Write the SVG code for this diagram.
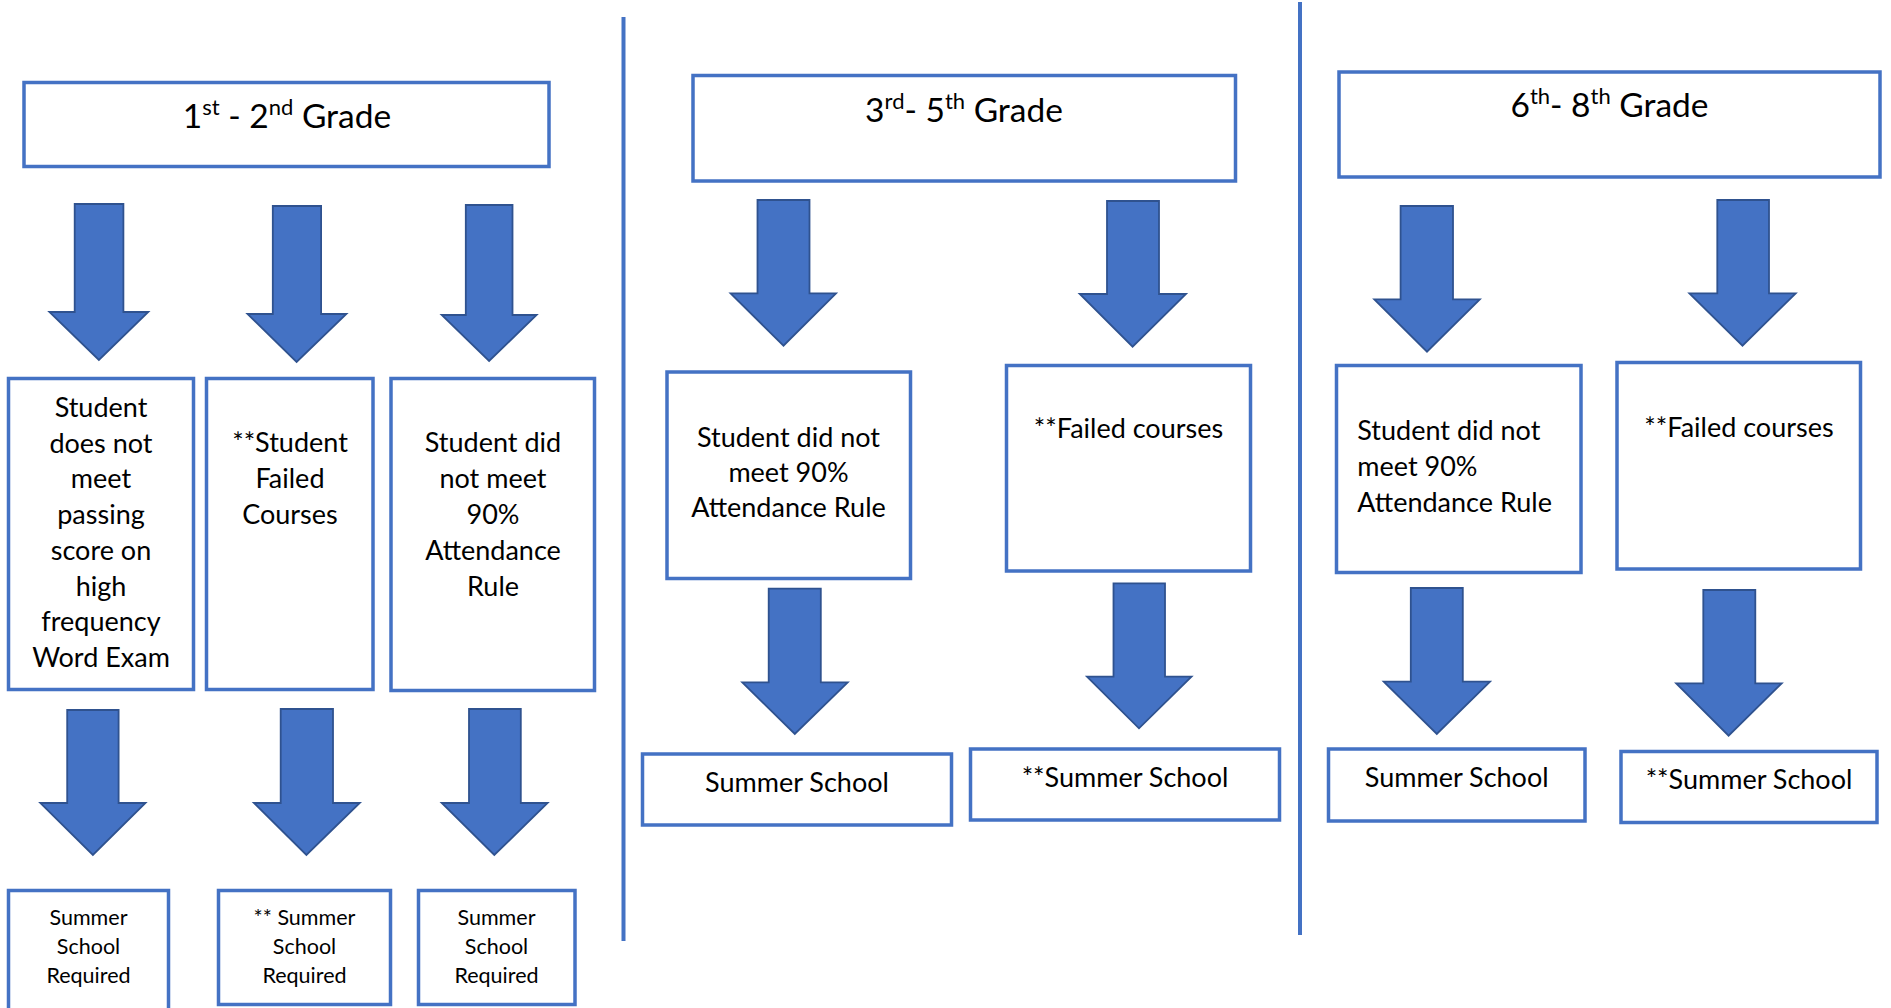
<svg xmlns="http://www.w3.org/2000/svg" width="1891" height="1008" viewBox="0 0 1891 1008">
<style>
.box{fill:#fff;stroke:#4472C4;stroke-width:3.5}
.arr{fill:#4472C4;stroke:#2F528F;stroke-width:1.8;stroke-linejoin:miter}
.sep{stroke:#4472C4;stroke-width:4}
text{font-family:Lato,"Liberation Sans",sans-serif;fill:#000}
.hd{font-size:33.5px;text-anchor:middle}
.t{font-size:27px;text-anchor:middle}
.tl{font-size:27px;text-anchor:start}
.s{font-size:21.5px;text-anchor:middle}
</style>
<rect width="1891" height="1008" fill="#fff"/>
<g id="separators">
<line class="sep" x1="623.5" y1="17" x2="623.5" y2="941"/>
<line class="sep" x1="1300" y1="2" x2="1300" y2="935"/>
</g>
<g id="connectors">
<polygon class="arr" points="74.7,204 123.4,204 123.4,312 148.3,312 98.9,360 49.4,312 74.7,312"/>
<polygon class="arr" points="272.8,206 321.1,206 321.1,314 346.4,314 296.6,362 247.5,314 272.8,314"/>
<polygon class="arr" points="465.8,205 512.5,205 512.5,315 536.6,315 489.1,361 441.7,315 465.8,315"/>
<polygon class="arr" points="67.2,710 118.6,710 118.6,803 145.5,803 92.9,855 40.3,803 67.2,803"/>
<polygon class="arr" points="280.7,709 333,709 333,803 359.8,803 306.4,855 253.9,803 280.7,803"/>
<polygon class="arr" points="469,709 520.8,709 520.8,803 547.6,803 494.3,855 441.7,803 469,803"/>
<polygon class="arr" points="757.5,200 809.5,200 809.5,293.3 836,293.3 783.5,345.7 730.6,293.3 757.5,293.3"/>
<polygon class="arr" points="1107,201 1159,201 1159,294 1186,294 1132.6,346.7 1079.7,294 1107,294"/>
<polygon class="arr" points="768.7,588.7 820.8,588.7 820.8,682.3 847.7,682.3 794.8,734 742.3,682.3 768.7,682.3"/>
<polygon class="arr" points="1113.5,583.3 1165,583.3 1165,676.7 1191.5,676.7 1139,728.3 1087,676.7 1113.5,676.7"/>
<polygon class="arr" points="1400.6,206 1453,206 1453,299.3 1479.8,299.3 1427,351.7 1374.3,299.3 1400.6,299.3"/>
<polygon class="arr" points="1717.3,200 1769,200 1769,293.3 1795.7,293.3 1742.5,345.7 1689.4,293.3 1717.3,293.3"/>
<polygon class="arr" points="1410.8,588 1462.8,588 1462.8,681.7 1490,681.7 1436.8,734 1383.7,681.7 1410.8,681.7"/>
<polygon class="arr" points="1703.3,590 1755.3,590 1755.3,683.3 1781.7,683.3 1728.6,735.7 1676.2,683.3 1703.3,683.3"/>
</g>
<g id="grade-1-2">
<rect class="box" x="24" y="82.5" width="525" height="84"/>
<text class="hd" x="287" y="128">1<tspan dy="-13" font-size="22">st</tspan><tspan dy="13"> - 2</tspan><tspan dy="-13" font-size="22">nd</tspan><tspan dy="13"> Grade</tspan></text>
</g>
<g id="g12-exam">
<rect class="box" x="8.5" y="378.5" width="185" height="311"/>
<text class="t" x="101"><tspan x="101" y="417">Student</tspan><tspan x="101" y="452.7">does not</tspan><tspan x="101" y="488.4">meet</tspan><tspan x="101" y="524.1">passing</tspan><tspan x="101" y="559.8">score on</tspan><tspan x="101" y="595.5">high</tspan><tspan x="101" y="631.2">frequency</tspan><tspan x="101" y="667">Word Exam</tspan></text>
</g>
<g id="g12-failed">
<rect class="box" x="206.5" y="378.5" width="166.5" height="311"/>
<text class="t"><tspan x="290" y="452.3">**Student</tspan><tspan x="290" y="488.3">Failed</tspan><tspan x="290" y="524.3">Courses</tspan></text>
</g>
<g id="g12-attendance">
<rect class="box" x="391" y="378.5" width="203.5" height="312"/>
<text class="t"><tspan x="493" y="452.3">Student did</tspan><tspan x="493" y="488.3">not meet</tspan><tspan x="493" y="524.3">90%</tspan><tspan x="493" y="560.3">Attendance</tspan><tspan x="493" y="596.3">Rule</tspan></text>
</g>
<g id="g12-summer-1">
<rect class="box" x="8.5" y="890.5" width="160" height="130"/>
<text class="s"><tspan x="88.5" y="925">Summer</tspan><tspan x="88.5" y="954">School</tspan><tspan x="88.5" y="983">Required</tspan></text>
</g>
<g id="g12-summer-2">
<rect class="box" x="218.5" y="890.5" width="172" height="114"/>
<text class="s"><tspan x="304.5" y="924.5">** Summer</tspan><tspan x="304.5" y="954">School</tspan><tspan x="304.5" y="983">Required</tspan></text>
</g>
<g id="g12-summer-3">
<rect class="box" x="418.5" y="890.5" width="156.5" height="114"/>
<text class="s"><tspan x="496.5" y="925">Summer</tspan><tspan x="496.5" y="954">School</tspan><tspan x="496.5" y="983">Required</tspan></text>
</g>
<g id="grade-3-5">
<rect class="box" x="693" y="75.5" width="542.5" height="105.5"/>
<text class="hd" x="964" y="121.7">3<tspan dy="-13" font-size="22">rd</tspan><tspan dy="13">- 5</tspan><tspan dy="-13" font-size="22">th</tspan><tspan dy="13"> Grade</tspan></text>
</g>
<g id="g35-attendance">
<rect class="box" x="667" y="372" width="243.5" height="206.5"/>
<text class="t"><tspan x="788.5" y="446.7">Student did not</tspan><tspan x="788.5" y="482">meet 90%</tspan><tspan x="788.5" y="517.3">Attendance Rule</tspan></text>
</g>
<g id="g35-failed">
<rect class="box" x="1006.5" y="365.5" width="244" height="205.5"/>
<text class="t" x="1128.5" y="438.3">**Failed courses</text>
</g>
<g id="g35-summer-1">
<rect class="box" x="642.5" y="754" width="309" height="71"/>
<text class="t" x="797" y="791.7">Summer School</text>
</g>
<g id="g35-summer-2">
<rect class="box" x="970.5" y="749" width="309" height="71"/>
<text class="t" x="1125" y="786.7">**Summer School</text>
</g>
<g id="grade-6-8">
<rect class="box" x="1339" y="72" width="541" height="105"/>
<text class="hd" x="1609.5" y="117.3">6<tspan dy="-13" font-size="22">th</tspan><tspan dy="13">- 8</tspan><tspan dy="-13" font-size="22">th</tspan><tspan dy="13"> Grade</tspan></text>
</g>
<g id="g68-attendance">
<rect class="box" x="1336.5" y="365.5" width="244.5" height="207"/>
<text class="tl"><tspan x="1357.3" y="440">Student did not</tspan><tspan x="1357.3" y="476">meet 90%</tspan><tspan x="1357.3" y="512.3">Attendance Rule</tspan></text>
</g>
<g id="g68-failed">
<rect class="box" x="1617" y="362.5" width="243.5" height="206.5"/>
<text class="t" x="1739" y="437.3">**Failed courses</text>
</g>
<g id="g68-summer-1">
<rect class="box" x="1328.5" y="749" width="256.5" height="72"/>
<text class="t" x="1456.7" y="786.7">Summer School</text>
</g>
<g id="g68-summer-2">
<rect class="box" x="1621" y="751.5" width="256" height="71"/>
<text class="t" x="1749" y="789.3">**Summer School</text>
</g>
</svg>
